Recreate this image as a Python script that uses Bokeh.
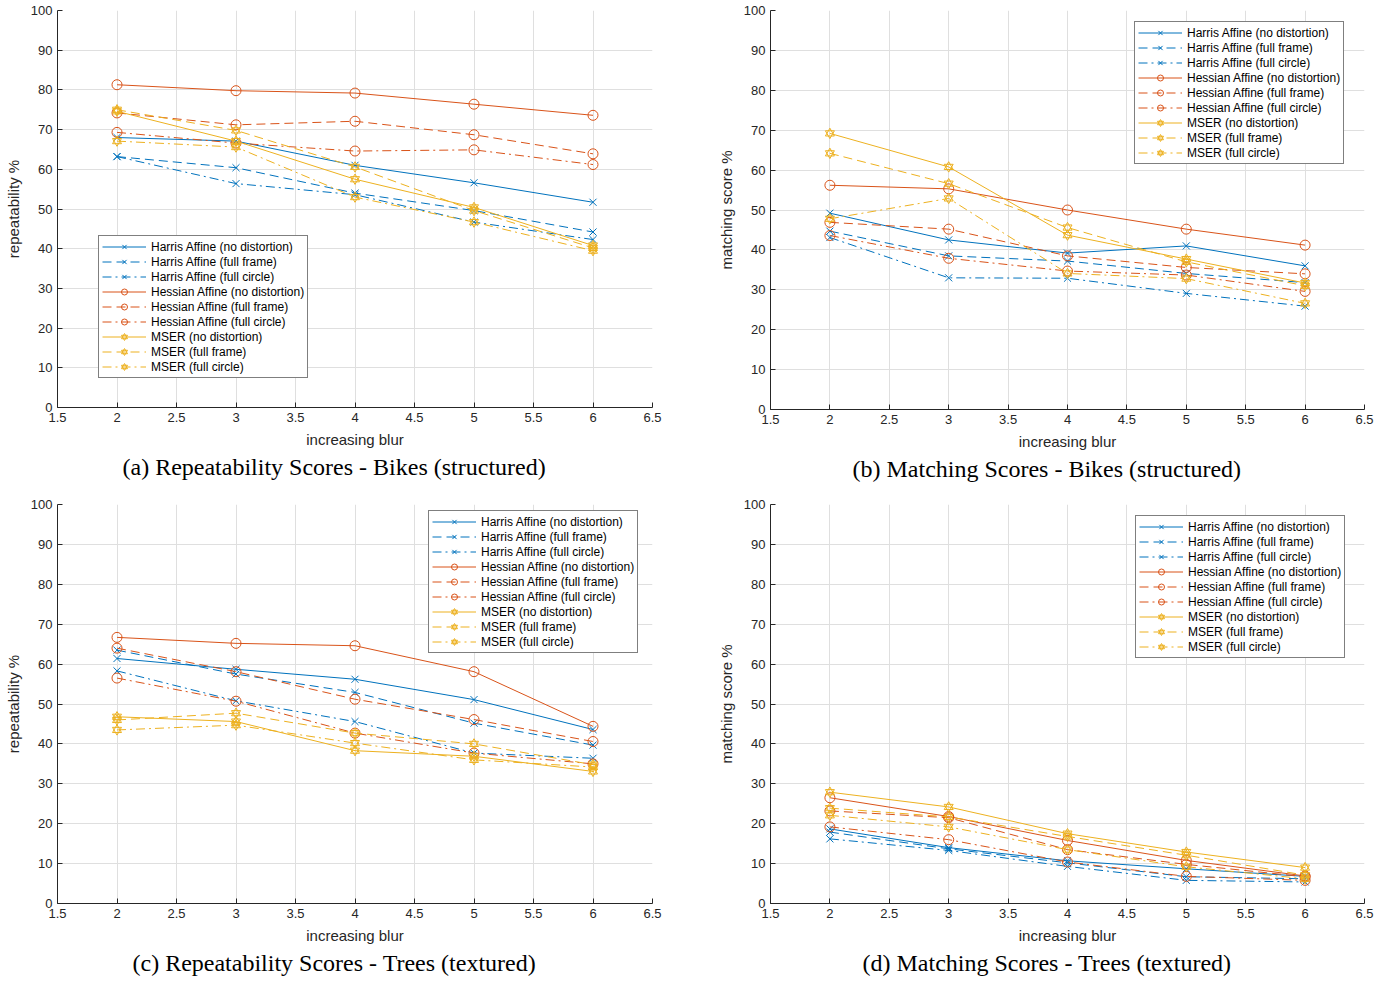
from bokeh.plotting import figure
from bokeh.layouts import column, row
from bokeh.models import (Range1d, Legend, LegendItem, Title, FixedTicker,
                          ColumnDataSource)
from bokeh.embed import file_html
from bokeh.resources import INLINE

# ---------------- data ----------------
blur = [2, 3, 4, 5, 6]
x_ticks = [1.5, 2, 2.5, 3, 3.5, 4, 4.5, 5, 5.5, 6, 6.5]
y_ticks = [0, 10, 20, 30, 40, 50, 60, 70, 80, 90, 100]

series_labels = [
    "Harris Affine (no distortion)",
    "Harris Affine (full frame)",
    "Harris Affine (full circle)",
    "Hessian Affine (no distortion)",
    "Hessian Affine (full frame)",
    "Hessian Affine (full circle)",
    "MSER (no distortion)",
    "MSER (full frame)",
    "MSER (full circle)",
]

# (a) Repeatability - Bikes
a_harris_none = [68.0, 67.1, 61.0, 56.6, 51.7]
a_harris_frame = [63.2, 60.4, 54.0, 49.6, 44.2]
a_harris_circle = [63.2, 56.4, 53.6, 46.7, 42.3]
a_hessian_none = [81.3, 79.8, 79.2, 76.4, 73.6]
a_hessian_frame = [74.2, 71.2, 72.1, 68.7, 63.9]
a_hessian_circle = [69.3, 66.6, 64.6, 64.9, 61.2]
a_mser_none = [74.6, 67.1, 57.5, 50.4, 40.8]
a_mser_frame = [75.0, 69.8, 60.6, 49.6, 40.2]
a_mser_circle = [67.1, 65.6, 53.0, 46.7, 39.5]

# (b) Matching - Bikes
b_harris_none = [49.2, 42.5, 39.2, 41.0, 36.0]
b_harris_frame = [44.7, 38.5, 37.2, 34.1, 31.8]
b_harris_circle = [43.1, 33.0, 32.9, 29.1, 25.9]
b_hessian_none = [56.2, 55.3, 50.0, 45.2, 41.2]
b_hessian_frame = [46.9, 45.2, 38.5, 35.6, 34.0]
b_hessian_circle = [43.6, 37.9, 34.7, 33.7, 29.6]
b_mser_none = [69.2, 60.8, 43.7, 37.7, 31.7]
b_mser_frame = [64.2, 56.6, 45.6, 37.0, 31.0]
b_mser_circle = [47.8, 52.9, 34.1, 32.8, 26.6]

# (c) Repeatability - Trees
c_harris_none = [61.4, 58.7, 56.2, 51.1, 43.6]
c_harris_frame = [63.5, 57.5, 52.9, 45.2, 39.7]
c_harris_circle = [58.3, 50.8, 45.6, 37.7, 36.4]
c_hessian_none = [66.7, 65.2, 64.6, 58.1, 44.4]
c_hessian_frame = [64.0, 58.1, 51.2, 46.1, 40.6]
c_hessian_circle = [56.5, 50.7, 42.7, 37.7, 35.0]
c_mser_none = [46.8, 45.6, 38.3, 36.9, 33.1]
c_mser_frame = [46.0, 47.7, 42.7, 40.0, 34.8]
c_mser_circle = [43.5, 44.7, 40.2, 36.0, 34.2]

# (d) Matching - Trees
d_harris_none = [18.7, 14.0, 10.7, 8.7, 6.8]
d_harris_frame = [17.9, 13.7, 10.2, 6.7, 6.2]
d_harris_circle = [16.2, 13.3, 9.3, 5.8, 5.4]
d_hessian_none = [26.5, 21.8, 15.8, 10.8, 6.9]
d_hessian_frame = [23.2, 21.5, 13.5, 9.8, 6.7]
d_hessian_circle = [19.2, 16.0, 10.4, 6.8, 5.8]
d_mser_none = [27.9, 24.2, 17.5, 12.9, 9.0]
d_mser_frame = [23.9, 21.7, 16.8, 12.1, 7.1]
d_mser_circle = [22.1, 19.2, 13.5, 9.2, 6.2]

# ---------------- styles ----------------
BLUE = "#0072BD"
ORANGE = "#D95319"
YELLOW = "#EDB120"
AXIS = "#262626"
GRID = "#dfdfdf"
SANS = "Liberation Sans"
SERIF = "Liberation Serif"
DASHED = "9 5"
DASHDOT = "9 4 2 4"

styles = [
    (BLUE, "solid", "x"), (BLUE, DASHED, "x"), (BLUE, DASHDOT, "x"),
    (ORANGE, "solid", "o"), (ORANGE, DASHED, "o"), (ORANGE, DASHDOT, "o"),
    (YELLOW, "solid", "h"), (YELLOW, DASHED, "h"), (YELLOW, DASHDOT, "h"),
]


def add_series(p, ys, color, dash, marker):
    src = ColumnDataSource(dict(x=blur, y=ys))
    rs = [p.line("x", "y", source=src, line_color=color, line_width=1,
                 line_dash=dash)]
    if marker == "x":
        rs.append(p.scatter("x", "y", source=src, marker="x", size=10,
                            line_color=color, line_width=1))
    elif marker == "o":
        rs.append(p.scatter("x", "y", source=src, marker="circle", size=10,
                            line_color=color, fill_color=None, line_width=1))
    else:
        rs.append(p.scatter("x", "y", source=src, marker="triangle", size=9,
                            line_color=color, fill_color=None, line_width=1))
        rs.append(p.scatter("x", "y", source=src, marker="inverted_triangle",
                            size=9, line_color=color, fill_color=None,
                            line_width=1))
    return rs


def make_panel(data, ylabel, caption, cap_offset, legend_xy,
               fw, fh, left, right, top, bottom):
    p = figure(frame_width=fw, frame_height=fh,
               x_range=Range1d(1.5, 6.5), y_range=Range1d(0, 100),
               output_backend="svg", toolbar_location=None,
               min_border_left=left, min_border_right=right,
               min_border_top=top, min_border_bottom=bottom,
               background_fill_color="white", border_fill_color="white")
    p.outline_line_color = None
    p.xaxis.ticker = FixedTicker(ticks=x_ticks)
    p.yaxis.ticker = FixedTicker(ticks=y_ticks)
    p.xgrid.ticker = FixedTicker(ticks=x_ticks)
    p.ygrid.ticker = FixedTicker(ticks=y_ticks)
    p.grid.grid_line_color = GRID
    p.grid.grid_line_width = 1
    for ax in (p.xaxis, p.yaxis):
        ax.axis_line_color = AXIS
        ax.axis_line_width = 1
        ax.major_tick_line_color = AXIS
        ax.major_tick_in = 5
        ax.major_tick_out = 0
        ax.minor_tick_line_color = None
        ax.major_label_text_font = SANS
        ax.major_label_text_font_size = "13px"
        ax.major_label_text_color = AXIS
        ax.axis_label_text_font = SANS
        ax.axis_label_text_font_size = "15px"
        ax.axis_label_text_font_style = "normal"
        ax.axis_label_text_color = AXIS
        ax.major_label_standoff = 5
        ax.axis_label_standoff = 6
    p.xaxis.axis_label = "increasing blur"
    p.yaxis.axis_label = ylabel

    items = []
    for ys, lab, (c, d, m) in zip(data, series_labels, styles):
        rs = add_series(p, ys, c, d, m)
        items.append(LegendItem(label=lab, renderers=rs))
    leg = Legend(items=items, location=legend_xy)
    leg.border_line_color = "black"
    leg.border_line_width = 1
    leg.background_fill_color = "white"
    leg.background_fill_alpha = 1
    leg.label_text_font = SANS
    leg.label_text_font_size = "12px"
    leg.label_text_color = "black"
    leg.glyph_width = 44
    leg.glyph_height = 15
    leg.label_height = 15
    leg.spacing = 0
    leg.padding = 3
    leg.margin = 0
    leg.label_standoff = 5
    p.add_layout(leg)

    t = Title(text=caption, align="left", offset=cap_offset,
              text_font=SERIF, text_font_size="24px",
              text_font_style="normal", text_color="black", standoff=2)
    p.add_layout(t, "below")
    return p


pa = make_panel([a_harris_none, a_harris_frame, a_harris_circle,
                 a_hessian_none, a_hessian_frame, a_hessian_circle,
                 a_mser_none, a_mser_frame, a_mser_circle],
                "repeatability %", "(a) Repeatability Scores - Bikes (structured)",
                65, (41, 29), 595, 397, 57, 42, 10, 89)
pb = make_panel([b_harris_none, b_harris_frame, b_harris_circle,
                 b_hessian_none, b_hessian_frame, b_hessian_circle,
                 b_mser_none, b_mser_frame, b_mser_circle],
                "matching score %", "(b) Matching Scores - Bikes (structured)",
                82, (364, 245), 594, 399, 76, 22, 9, 88)
pc = make_panel([c_harris_none, c_harris_frame, c_harris_circle,
                 c_hessian_none, c_hessian_frame, c_hessian_circle,
                 c_mser_none, c_mser_frame, c_mser_circle],
                "repeatability %", "(c) Repeatability Scores - Trees (textured)",
                75, (371, 250), 595, 399, 57, 42, 8, 80)
pd_ = make_panel([d_harris_none, d_harris_frame, d_harris_circle,
                  d_hessian_none, d_hessian_frame, d_hessian_circle,
                  d_mser_none, d_mser_frame, d_mser_circle],
                 "matching score %", "(d) Matching Scores - Trees (textured)",
                 92, (365, 245), 594, 399, 76, 22, 8, 80)

layout = column(row(pa, pb), row(pc, pd_))

with open("out.html", "w") as f:
    f.write(file_html(layout, INLINE))
